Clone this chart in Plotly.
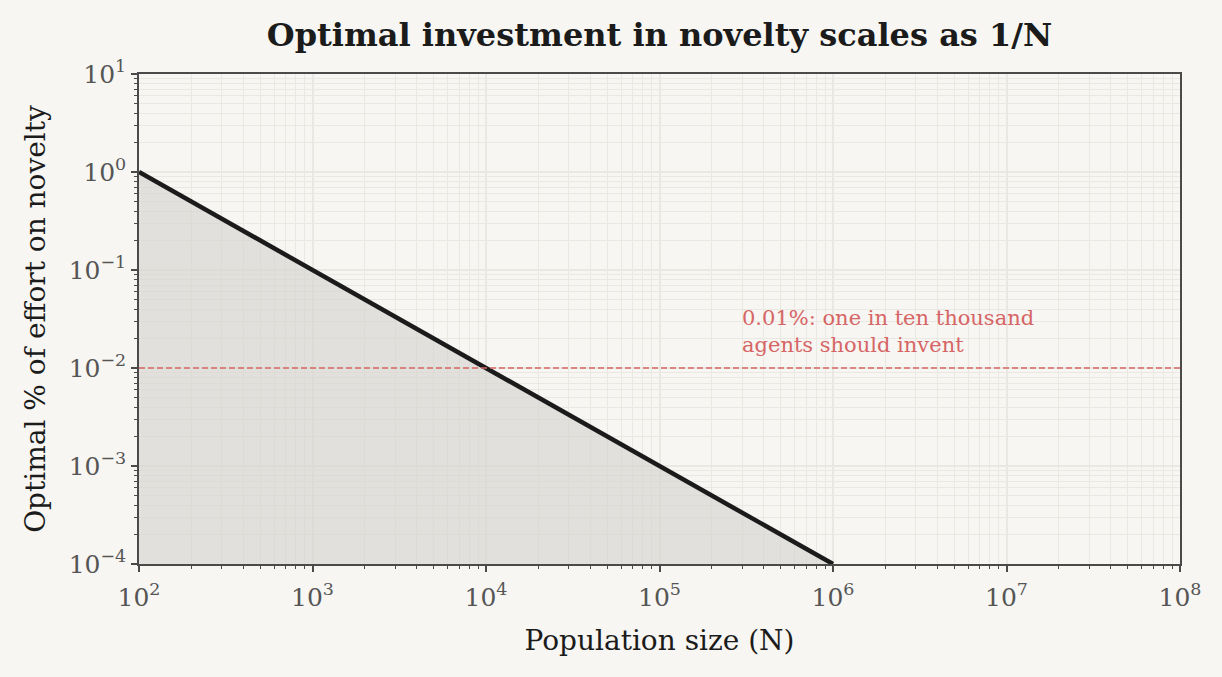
import numpy as np
import plotly.graph_objects as go

# Data
population = [1e2, 1e6]
effort_pct = [1.0, 1e-4]
threshold_pct = 1e-2
x_decades = [2, 3, 4, 5, 6, 7, 8]
y_decades = [-4, -3, -2, -1, 0, 1]
annotation_text = "0.01%: one in ten thousand<br>agents should invent"

FONT = "Georgia, 'DejaVu Serif', serif"
BG = "#f7f6f2"
GRID = "#eae8e2"
AXC = "#4a4a4a"
TICKC = "#555555"
RED = "#d66565"

def sup(n):
    s = str(n).replace("-", "−")
    return f"10<sup>{s}</sup>"

def minor_vals(decs):
    out = []
    for d in decs[:-1]:
        for m in range(2, 10):
            out.append(m * 10.0 ** d)
    return out

fig = go.Figure()
fig.add_trace(go.Scatter(
    x=population, y=effort_pct, mode="lines",
    line=dict(color="#1b1b1b", width=4.5),
    fill="tozeroy", fillcolor="rgba(212,210,205,0.6)",
    hoverinfo="skip", showlegend=False,
))
fig.add_trace(go.Scatter(
    x=[10.0 ** x_decades[0], 10.0 ** x_decades[-1]], y=[threshold_pct, threshold_pct],
    mode="lines", line=dict(color=RED, width=1.5, dash="6px,3px"),
    hoverinfo="skip", showlegend=False,
))

fig.add_annotation(
    x=np.log10(3e5), y=np.log10(1.25e-2), xref="x", yref="y",
    text=annotation_text, showarrow=False, xanchor="left", yanchor="bottom",
    align="left", font=dict(family=FONT, size=21, color=RED), xshift=-2,
)

common = dict(
    type="log", showline=True, linecolor=AXC, linewidth=1.5, mirror=True,
    ticks="outside", ticklen=6, tickwidth=1.5, tickcolor=AXC,
    showgrid=True, gridcolor=GRID, gridwidth=1.5, zeroline=False,
    tickfont=dict(family=FONT, size=25, color=TICKC),
)

fig.update_xaxes(
    **common,
    range=[x_decades[0], x_decades[-1]],
    tickmode="array", tickvals=[10.0 ** d for d in x_decades],
    ticktext=[sup(d) for d in x_decades],
    ticklabelstandoff=4,
    minor=dict(tickmode="array", tickvals=minor_vals(x_decades), ticks="outside",
               ticklen=3.5, tickwidth=1, tickcolor=AXC, showgrid=True,
               gridcolor=GRID, gridwidth=1.3),
    title=dict(text="Population size (N)", font=dict(family=FONT, size=28, color="#1b1b1b"), standoff=20),
)
fig.update_yaxes(
    **common,
    range=[y_decades[0], y_decades[-1]],
    tickmode="array", tickvals=[10.0 ** d for d in y_decades],
    ticktext=[sup(d) for d in y_decades],
    minor=dict(tickmode="array", tickvals=minor_vals(y_decades), ticks="outside",
               ticklen=3.5, tickwidth=1, tickcolor=AXC, showgrid=True,
               gridcolor=GRID, gridwidth=1.3),
    title=dict(text="Optimal % of effort on novelty", font=dict(family=FONT, size=28, color="#1b1b1b"), standoff=15),
)

fig.update_layout(
    width=1222, height=677,
    margin=dict(l=139, r=42, t=74, b=113),
    paper_bgcolor=BG, plot_bgcolor=BG,
    title=dict(text="<b>Optimal investment in novelty scales as 1/N</b>",
               x=(139 + 1180) / 2 / 1222, xanchor="center", y=1 - 35 / 677, yanchor="middle",
               font=dict(family=FONT, size=32, color="#1b1b1b")),
)

fig.write_html("out.html")
